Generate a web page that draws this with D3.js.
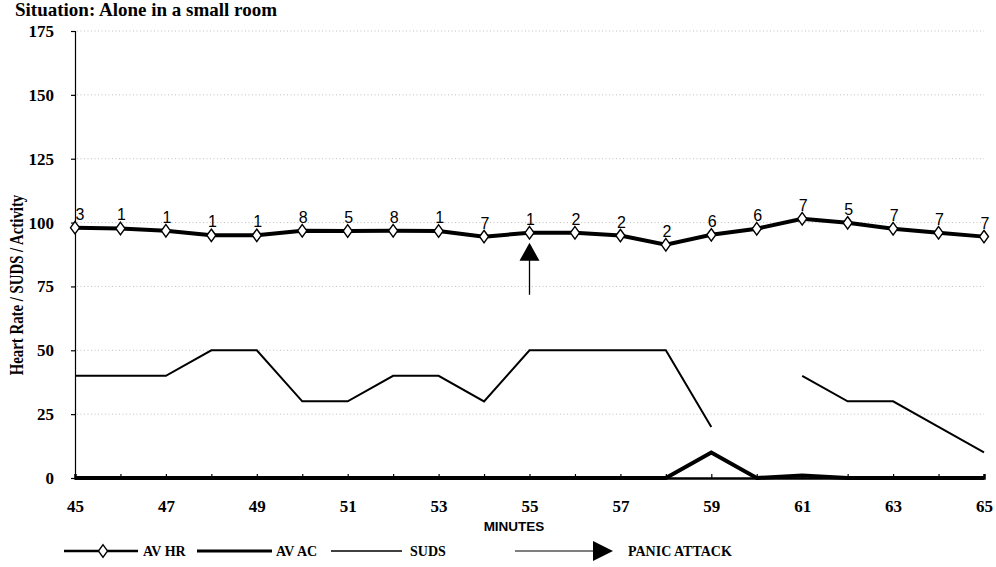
<!DOCTYPE html>
<html>
<head>
<meta charset="utf-8">
<script src="https://cdn.jsdelivr.net/npm/d3@7"></script>
<style>
  body { margin: 0; background: #fff; }
  text { fill: #000; }
</style>
</head>
<body>
<script>
// data
var minutes = [45, 46, 47, 48, 49, 50, 51, 52, 53, 54, 55, 56, 57, 58, 59, 60, 61, 62, 63, 64, 65];
var avHR = [98, 97.7, 96.8, 95, 95, 96.8, 96.7, 96.8, 96.7, 94.5, 96, 96, 94.9, 91.3, 95.2, 97.6, 101.5, 99.9, 97.6, 96, 94.5];
var hrLabels = ["3", "1", "1", "1", "1", "8", "5", "8", "1", "7", "1", "2", "2", "2", "6", "6", "7", "5", "7", "7", "7"];
var avAC = [0, 0, 0, 0, 0, 0, 0, 0, 0, 0, 0, 0, 0, 0, 10, 0, 1, 0, 0, 0, 0];
var suds = [40, 40, 40, 50, 50, 30, 30, 40, 40, 30, 50, 50, 50, 50, 20, null, 40, 30, 30, 20, 10];
var yTicks = [0, 25, 50, 75, 100, 125, 150, 175];
var xLabelTicks = [45, 47, 49, 51, 53, 55, 57, 59, 61, 63, 65];
var panicMinute = 55;

var width = 996, height = 567;
var margin = {left: 75, right: 12, top: 31, bottom: 89};

var svg = d3.select("body").append("svg")
   .attr("width", width)
   .attr("height", height);

var x = d3.scaleLinear().domain([45, 65]).range([margin.left, width - margin.right]);
var y = d3.scaleLinear().domain([0, 175]).range([height - margin.bottom, margin.top]);

var serif = "'Liberation Serif', 'DejaVu Serif', serif";
var sans = "'Liberation Sans', Arial, sans-serif";

// title
svg.append("text")
   .attr("x", 15).attr("y", 16)
   .style("font-family", serif).style("font-weight", "bold").style("font-size", "19px")
   .text("Situation: Alone in a small room");

// gridlines
svg.append("g").selectAll("line")
   .data(yTicks.filter(function (d) { return d > 0; }))
   .enter().append("line")
   .attr("x1", x(45) + 2).attr("x2", x(65))
   .attr("y1", function (d) { return y(d); })
   .attr("y2", function (d) { return y(d); })
   .attr("stroke", "#b0b0b0")
   .attr("stroke-width", 0.8)
   .attr("stroke-dasharray", "1,2.5");

// y axis
var yAxis = d3.axisLeft(y).tickValues(yTicks).tickSize(4).tickPadding(17);
var gy = svg.append("g")
   .attr("transform", "translate(" + x(45) + ",0)")
   .call(yAxis);
gy.select(".domain").attr("stroke", "#000").attr("stroke-width", 1.2);
gy.selectAll(".tick line").attr("stroke", "#000").attr("stroke-width", 1.2);
gy.selectAll(".tick text")
   .style("font-family", serif).style("font-weight", "bold").style("font-size", "17px")
   .attr("dy", "0.32em");

// x axis: ticks every minute, labels on odd minutes
var xAxis = d3.axisBottom(x).tickValues(minutes).tickSize(-4).tickFormat(function (d) {
   return xLabelTicks.indexOf(d) >= 0 ? d : "";
}).tickPadding(22);
var gx = svg.append("g")
   .attr("transform", "translate(0," + y(0) + ")")
   .call(xAxis);
gx.select(".domain").attr("stroke", "#000").attr("stroke-width", 2.5);
gx.selectAll(".tick line").attr("stroke", "#000").attr("stroke-width", 1.2);
gx.selectAll(".tick text")
   .style("font-family", serif).style("font-weight", "bold").style("font-size", "17px");

// axis titles (condensed like the scanned original)
svg.append("text")
   .attr("transform", "translate(23,285) rotate(-90) scale(0.78,1)")
   .attr("text-anchor", "middle")
   .style("font-family", serif).style("font-weight", "bold").style("font-size", "19px")
   .text("Heart Rate / SUDS / Activity");

svg.append("text")
   .attr("x", 514).attr("y", 531)
   .attr("text-anchor", "middle")
   .style("font-family", sans).style("font-weight", "900").style("font-size", "13.5px")
   .text("MINUTES");

// series
var line = d3.line()
   .defined(function (d) { return d[1] !== null; })
   .x(function (d) { return x(d[0]); })
   .y(function (d) { return y(d[1]); });

function pairs(vals) {
   return minutes.map(function (m, i) { return [m, vals[i]]; });
}

svg.append("path")
   .datum(pairs(suds))
   .attr("d", line)
   .attr("fill", "none").attr("stroke", "#000").attr("stroke-width", 2);

svg.append("path")
   .datum(pairs(avAC))
   .attr("d", line)
   .attr("fill", "none").attr("stroke", "#000").attr("stroke-width", 4)
   .attr("stroke-linejoin", "miter");

svg.append("path")
   .datum(pairs(avHR))
   .attr("d", line)
   .attr("fill", "none").attr("stroke", "#000").attr("stroke-width", 4);

var diamond = d3.symbol().type(d3.symbolDiamond).size(45);
svg.append("g").selectAll("path")
   .data(pairs(avHR))
   .enter().append("path")
   .attr("d", diamond)
   .attr("transform", function (d) { return "translate(" + x(d[0]) + "," + y(d[1]) + ") scale(1.25,1)"; })
   .attr("fill", "#fff").attr("stroke", "#000").attr("stroke-width", 1.2);

svg.append("g").selectAll("text")
   .data(pairs(avHR))
   .enter().append("text")
   .attr("x", function (d, i) { return x(d[0]) + (i === 0 ? 5 : 1); })
   .attr("y", function (d) { return y(d[1]) - 8; })
   .attr("text-anchor", "middle")
   .style("font-family", sans).style("font-size", "16px")
   .text(function (d, i) { return hrLabels[i]; });

// panic attack arrow
var px = x(panicMinute), py = y(avHR[minutes.indexOf(panicMinute)]);
svg.append("line")
   .attr("x1", px).attr("x2", px)
   .attr("y1", py + 62).attr("y2", py + 20)
   .attr("stroke", "#000").attr("stroke-width", 1.3);
svg.append("path")
   .attr("d", "M" + px + "," + (py + 10) + "L" + (px - 10) + "," + (py + 28) + "L" + (px + 10) + "," + (py + 28) + "Z")
   .attr("fill", "#000");

// legend
var ly = 551;
var lg = svg.append("g");
function legendText(xx, t) {
   lg.append("text")
      .attr("x", xx).attr("y", ly + 5)
      .style("font-family", serif).style("font-weight", "bold").style("font-size", "14px")
      .text(t);
}
lg.append("line").attr("x1", 64).attr("x2", 138).attr("y1", ly).attr("y2", ly)
   .attr("stroke", "#000").attr("stroke-width", 2.5);
lg.append("path").attr("d", diamond)
   .attr("transform", "translate(103," + ly + ") scale(1.25,1)")
   .attr("fill", "#fff").attr("stroke", "#000").attr("stroke-width", 1.2);
legendText(143, "AV HR");

lg.append("line").attr("x1", 197).attr("x2", 272).attr("y1", ly).attr("y2", ly)
   .attr("stroke", "#000").attr("stroke-width", 3);
legendText(276, "AV AC");

lg.append("line").attr("x1", 331).attr("x2", 402).attr("y1", ly).attr("y2", ly)
   .attr("stroke", "#000").attr("stroke-width", 1.5);
legendText(410, "SUDS");

lg.append("line").attr("x1", 515).attr("x2", 595).attr("y1", ly).attr("y2", ly)
   .attr("stroke", "#000").attr("stroke-width", 1.2);
lg.append("path")
   .attr("d", "M593," + (ly - 10) + "L613," + ly + "L593," + (ly + 10) + "Z")
   .attr("fill", "#000");
legendText(628, "PANIC ATTACK");
</script>
</body>
</html>
